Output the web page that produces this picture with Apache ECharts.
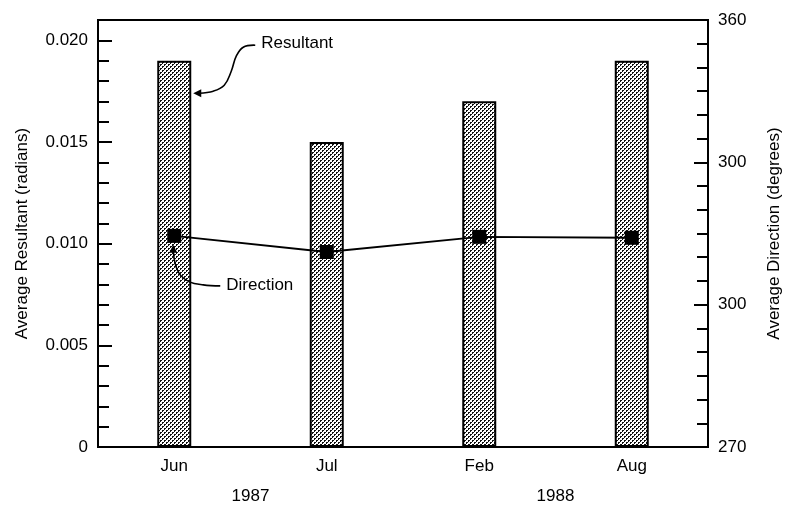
<!DOCTYPE html>
<html>
<head>
<meta charset="utf-8">
<script src="https://cdn.jsdelivr.net/npm/echarts@6/dist/echarts.min.js"></script>
<style>
html,body{margin:0;padding:0;background:#fff;}
#chart{width:791px;height:505px;}
</style>
</head>
<body>
<div id="chart"></div>
<script>
// ---- data ----
var categories = ['Jun', 'Jul', 'Feb', 'Aug'];
var years = ['1987', '1988'];
var resultant = [0.019, 0.015, 0.017, 0.019];          // radians (left axis)
var direction = [314.5, 311.1, 314.3, 314.1];          // degrees (right axis)
var leftTickValues = [0, 0.005, 0.010, 0.015, 0.020];
var leftTickLabels = ['0', '0.005', '0.010', '0.015', '0.020'];
var rightTickValues = [270, 300, 330, 360];
var rightTickLabels = ['270', '300', '300', '360'];

function lookup(vals, labels, v) {
  for (var i = 0; i < vals.length; i++) {
    if (Math.abs(vals[i] - v) < 1e-9) return labels[i];
  }
  return '';
}

// stipple pattern
var tile = document.createElement('canvas');
tile.width = 4; tile.height = 4;
var tc = tile.getContext('2d');
tc.fillStyle = '#ffffff'; tc.fillRect(0, 0, 4, 4);
tc.fillStyle = '#111111';
tc.fillRect(0, 0, 2, 1);
tc.fillRect(0, 1, 1, 1);
tc.fillRect(2, 2, 2, 1);
tc.fillRect(2, 3, 1, 1);

var FONT = 'Liberation Sans, Arial, sans-serif';
var chart = echarts.init(document.getElementById('chart'), null, {renderer: 'canvas'});

var option = {
  animation: false,
  backgroundColor: '#ffffff',
  grid: {left: 98, right: 68, top: 20, bottom: 56, show: true, borderColor: '#000', borderWidth: 2, backgroundColor: 'transparent'},
  xAxis: [{
    type: 'category', data: categories, boundaryGap: true,
    axisLine: {lineStyle: {color: '#000', width: 2}},
    axisTick: {show: false},
    axisLabel: {color: '#000', fontSize: 17, fontFamily: FONT, margin: 11}
  }, {
    type: 'category', data: years, position: 'bottom', offset: 30,
    axisLine: {show: false}, axisTick: {show: false},
    axisLabel: {color: '#000', fontSize: 17, fontFamily: FONT, margin: 11}
  }],
  yAxis: [{
    type: 'value', min: 0, max: 0.021, interval: 0.005, position: 'left',
    name: 'Average Resultant (radians)', nameLocation: 'middle', nameGap: 67,
    nameTextStyle: {color: '#000', fontSize: 17, fontFamily: FONT},
    axisLine: {show: true, lineStyle: {color: '#000', width: 2}},
    axisTick: {show: true, inside: true, length: 14, lineStyle: {color: '#000', width: 2}},
    splitLine: {show: false},
    axisLabel: {color: '#000', fontSize: 17, fontFamily: FONT, margin: 10,
      formatter: function (v) { return lookup(leftTickValues, leftTickLabels, v); }}
  }, {
    type: 'value', min: 270, max: 360, interval: 30, position: 'right',
    name: 'Average Direction (degrees)', nameLocation: 'middle', nameGap: 58,
    nameTextStyle: {color: '#000', fontSize: 17, fontFamily: FONT},
    axisLine: {show: true, lineStyle: {color: '#000', width: 2}},
    axisTick: {show: true, inside: true, length: 14, lineStyle: {color: '#000', width: 2}},
    minorTick: {show: true, splitNumber: 6, length: 11, lineStyle: {color: '#000', width: 2}},
    splitLine: {show: false},
    axisLabel: {color: '#000', fontSize: 17, fontFamily: FONT, margin: 10,
      formatter: function (v) { return lookup(rightTickValues, rightTickLabels, v); }}
  }, {
    type: 'value', min: 0, max: 0.021, interval: 0.001, position: 'left',
    axisLine: {show: false},
    axisTick: {show: true, inside: true, length: 11, lineStyle: {color: '#000', width: 2}},
    splitLine: {show: false},
    axisLabel: {show: false}
  }],
  series: [{
    name: 'Resultant', type: 'bar', data: resultant, yAxisIndex: 0, xAxisIndex: 0,
    barWidth: 34,
    itemStyle: {color: {image: tile, repeat: 'repeat'}, borderColor: '#000', borderWidth: 2},
    z: 2
  }, {
    name: 'Direction', type: 'line', data: direction, yAxisIndex: 1, xAxisIndex: 0,
    symbol: 'rect', symbolSize: 14, showSymbol: true,
    itemStyle: {color: '#000'}, lineStyle: {color: '#000', width: 1.8},
    z: 5
  }]
};
chart.setOption(option);

// annotations anchored to data
var barTip = chart.convertToPixel({xAxisIndex: 0, yAxisIndex: 0}, [categories[0], 0.0174]);
var tx = barTip[0] + 19, ty = barTip[1];
var pt = chart.convertToPixel({xAxisIndex: 0, yAxisIndex: 1}, [categories[0], direction[0]]);
var dx = pt[0] - 1, dy = pt[1] + 9;

chart.setOption({
  graphic: [
    {type: 'polyline', z: 10, shape: {smooth: 0.4, points: [
      [tx + 6, ty], [tx + 20, ty - 2], [tx + 31, ty - 8], [tx + 38, ty - 22],
      [tx + 43, ty - 37], [tx + 50, ty - 46], [tx + 62, ty - 48]]},
      style: {stroke: '#000', lineWidth: 1.6, fill: null}},
    {type: 'polygon', z: 10, shape: {points: [[tx, ty], [tx + 8, ty - 4], [tx + 8, ty + 4]]}, style: {fill: '#000'}},
    {type: 'text', z: 10, left: tx + 68, top: ty - 58,
      style: {text: 'Resultant', fill: '#000', font: '17px ' + FONT}},
    {type: 'polyline', z: 10, shape: {smooth: 0.4, points: [
      [dx, dy + 6], [dx + 2, dy + 19], [dx + 7, dy + 30], [dx + 16, dy + 37],
      [dx + 30, dy + 40], [dx + 47, dy + 41]]},
      style: {stroke: '#000', lineWidth: 1.6, fill: null}},
    {type: 'polygon', z: 10, shape: {points: [[dx, dy], [dx - 4, dy + 8], [dx + 4, dy + 8]]}, style: {fill: '#000'}},
    {type: 'text', z: 10, left: dx + 53, top: dy + 32,
      style: {text: 'Direction', fill: '#000', font: '17px ' + FONT}}
  ]
});
</script>
</body>
</html>
